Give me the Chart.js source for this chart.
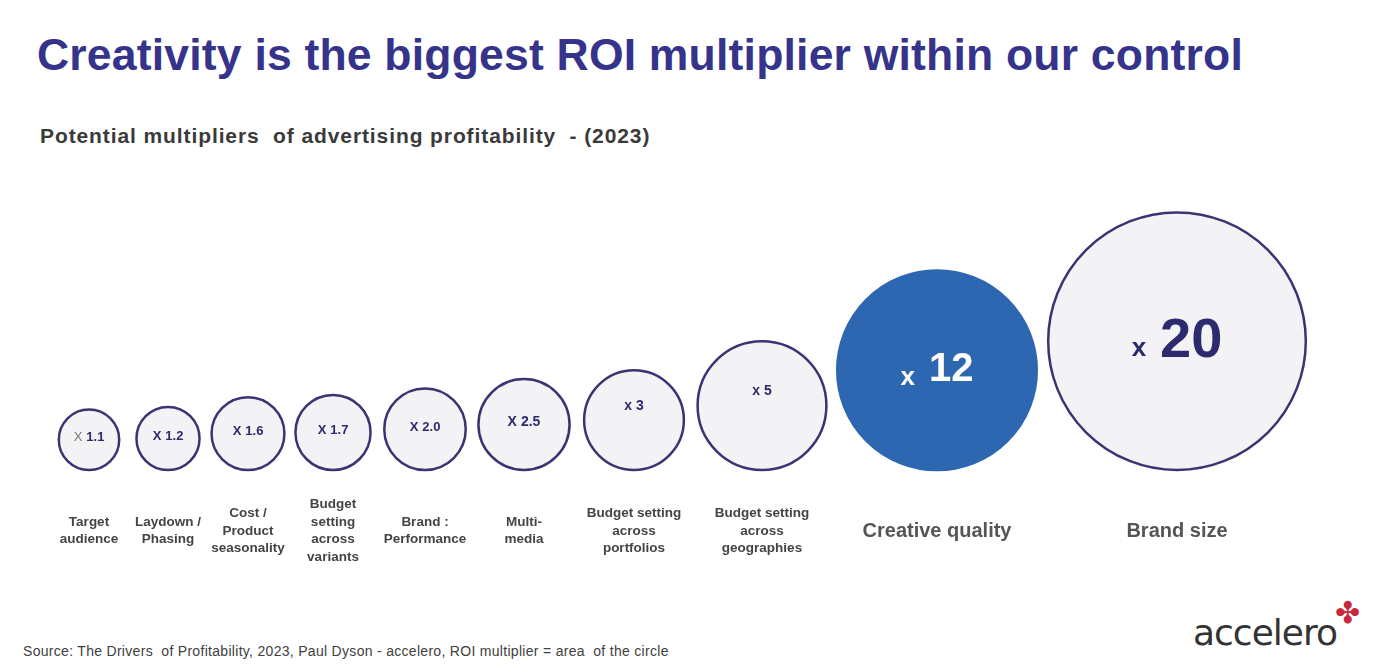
<!DOCTYPE html>
<html><head><meta charset="utf-8">
<script src="https://cdn.jsdelivr.net/npm/chart.js@4/dist/chart.umd.min.js"></script>
<style>
body{margin:0;width:1400px;height:672px;background:#fff;font-family:"Liberation Sans",Arial,sans-serif;position:relative;overflow:hidden}
h1{position:absolute;left:37px;top:30px;margin:0;font-size:44.5px;color:#36338a;font-weight:bold;letter-spacing:0.2px}
h2{position:absolute;left:40px;top:124px;margin:0;font-size:21px;color:#3a3a3a;font-weight:bold;letter-spacing:0.9px}
#src{position:absolute;left:23px;top:643px;font-size:14px;color:#404040;letter-spacing:0.3px}
#logo{position:absolute;left:1193px;top:612px;font-size:36px;color:#333;font-family:"DejaVu Sans";letter-spacing:-1px}
canvas{position:absolute;left:0;top:0}
</style></head><body>
<h1>Creativity is the biggest ROI multiplier within our control</h1>
<h2>Potential multipliers&nbsp; of advertising profitability&nbsp; - (2023)</h2>
<div id="src">Source: The Drivers&nbsp; of Profitability, 2023, Paul Dyson - accelero, ROI multiplier = area&nbsp; of the circle</div>
<div id="logo">accelero<span style="color:#c8283c;font-size:30px;position:relative;top:-22px;left:-2px">✤</span></div>
<canvas id="c" width="1400" height="672"></canvas>
<script>
const categories = [['Target','audience'],['Laydown /','Phasing'],['Cost /','Product','seasonality'],['Budget','setting','across','variants'],['Brand :','Performance'],['Multi-','media'],['Budget setting','across','portfolios'],['Budget setting','across','geographies'],['Creative quality'],['Brand size']];
const multipliers = [1.1, 1.2, 1.6, 1.7, 2.0, 2.5, 3, 5, 12, 20];
const valueLabels = ['1.1','1.2','1.6','1.7','2.0','2.5','3','5','12','20'];
const positions = [89, 168, 248, 333, 425, 524, 634, 762, 937, 1177];

const BASE = 470;     // common bottom line of circles
const K = 28.8;       // radius per sqrt(multiplier): area ~ multiplier
const radii = multipliers.map(m => K * Math.sqrt(m));

const labelPlugin = {
  id: 'labels',
  afterDatasetsDraw(chart) {
    const ctx = chart.ctx;
    const meta = chart.getDatasetMeta(0);
    ctx.save();
    ctx.textBaseline = 'middle';
    meta.data.forEach((pt, i) => {
      const big = i >= 8;
      const white = i === 8;
      // value inside circle
      const fs = big ? (i === 9 ? 56 : 40) : (i >= 5 ? 14 : 13);
      const xs = big ? 26 : fs;
      ctx.font = 'bold ' + fs + 'px "Liberation Sans", Arial';
      const w1 = ctx.measureText(valueLabels[i]).width;
      ctx.font = (big || i > 0 ? 'bold ' : '') + xs + 'px "Liberation Sans", Arial';
      const xLab = i >= 6 ? 'x' : 'X';
      const w0 = ctx.measureText(xLab).width;
      const gap = big ? 14 : 4;
      const tot = w0 + gap + w1;
      const cy = pt.y - (big ? 0 : 2) - (i === 7 || i === 6 ? 12 : 0);
      ctx.textAlign = 'left';
      ctx.fillStyle = i === 0 ? '#777' : (white ? '#fff' : '#2d2a6e');
      ctx.fillText(xLab, pt.x - tot / 2, cy + (big ? 8 : 0));
      ctx.font = 'bold ' + fs + 'px "Liberation Sans", Arial';
      ctx.fillStyle = white ? '#ffffff' : '#2d2a6e';
      ctx.fillText(valueLabels[i], pt.x - tot / 2 + w0 + gap, cy);
      // category label
      ctx.textAlign = 'center';
      const lines = categories[i];
      const lf = big ? 20 : 13.5;
      const lh = big ? 22 : 17.5;
      ctx.font = 'bold ' + lf + 'px "Liberation Sans", Arial';
      ctx.fillStyle = big ? '#555' : '#444';
      const y0 = 531 - (lines.length - 1) * lh / 2;
      lines.forEach((t, j) => ctx.fillText(t, pt.x, y0 + j * lh));
    });
    ctx.restore();
  }
};

new Chart(document.getElementById('c'), {
  type: 'scatter',
  data: {
    datasets: [{
      data: positions.map((x, i) => ({ x: x, y: BASE - radii[i] })),
      pointRadius: radii,
      pointHoverRadius: radii,
      backgroundColor: multipliers.map((m, i) => i === 8 ? '#2e67b1' : '#f3f3f5'),
      borderColor: multipliers.map((m, i) => i === 8 ? '#2e67b1' : '#3d3272'),
      borderWidth: 2.5
    }]
  },
  options: {
    responsive: false,
    animation: false,
    layout: { padding: 0, autoPadding: false },
    plugins: { legend: { display: false }, tooltip: { enabled: false } },
    scales: {
      x: { type: 'linear', min: 0, max: 1400, display: false },
      y: { type: 'linear', min: 0, max: 672, reverse: true, display: false }
    }
  },
  plugins: [labelPlugin]
});
</script>
</body></html>
